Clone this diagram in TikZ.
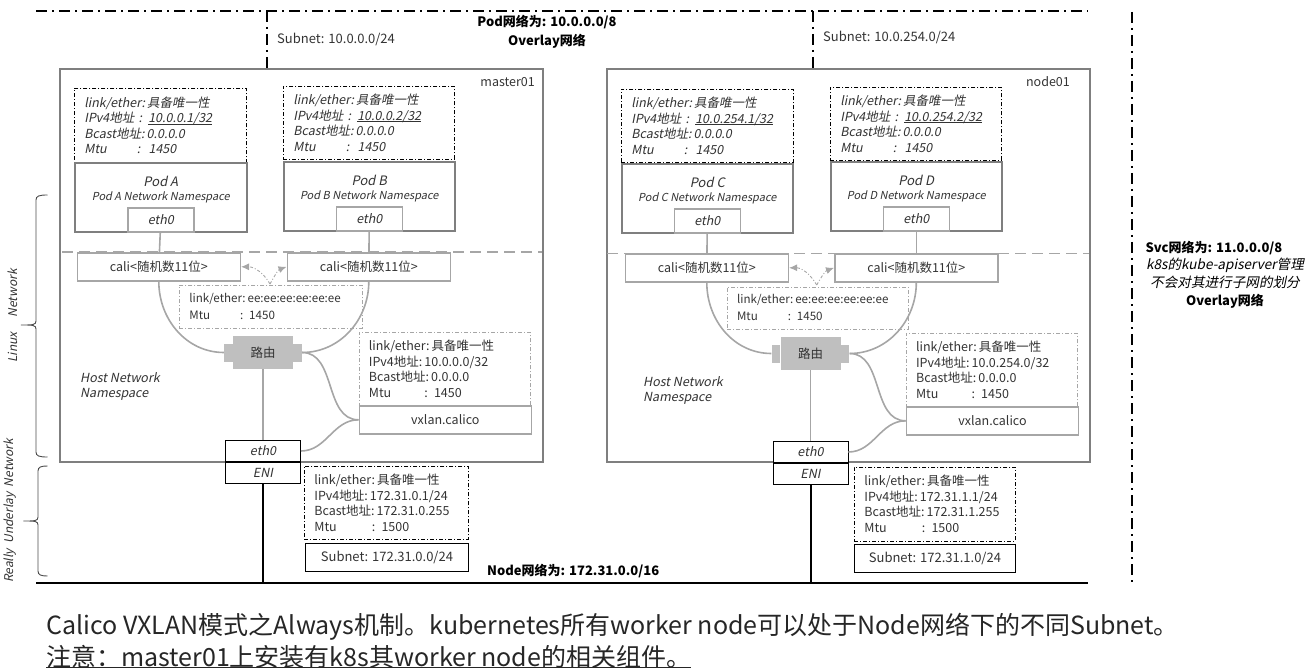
\documentclass[tikz,border=0pt]{standalone}
\usepackage{fontspec}
\setmainfont{Noto Sans CJK SC}[AutoFakeSlant=0.2]
\usetikzlibrary{positioning, arrows.meta}
\definecolor{mtext}{HTML}{333333}
\definecolor{mframe}{HTML}{7F7F7F}
\definecolor{mline}{HTML}{A6A6A6}
\definecolor{mroute}{HTML}{BFBFBF}
\newcommand{\infosize}{\fontsize{12.5}{15.5}\selectfont}
\newcommand{\netsize}{\fontsize{13}{15.5}\selectfont}
\newcommand{\titlesize}{\fontsize{13}{19}\selectfont}
\newcommand{\lowline}[1]{\underline{\smash{#1}}}
\tikzstyle{every node} = [text = mtext, inner sep = 0pt]
\tikzstyle{plain} = [font = \infosize]
\tikzstyle{plainit} = [font = \infosize\itshape]
\tikzstyle{title} = [font = \titlesize\bfseries, text = black, align = center]
\tikzstyle{host} = [draw = mframe, line width = 1.6pt, anchor = north west, minimum width = 483, minimum height = 393]
\tikzstyle{pod} = [draw = mframe, line width = 1.6pt, anchor = north west, minimum width = 172, minimum height = 69]
\tikzstyle{podname} = [font = \fontsize{11}{14}\selectfont\itshape, align = center, anchor = north, yshift = -13.5pt]
\tikzstyle{podeth} = [draw = mline, line width = 1.6pt, fill = white, anchor = south, minimum width = 66, minimum height = 24, font = \infosize\itshape]
\tikzstyle{cali} = [draw = mline, line width = 1.6pt, anchor = north west, minimum width = 163, minimum height = 28, font = \infosize]
\tikzstyle{vxlan} = [draw = mline, line width = 1.6pt, anchor = north west, minimum width = 172, minimum height = 28, font = \infosize]
\tikzstyle{router} = [fill = mroute, minimum width = 60, minimum height = 33, font = \infosize]
\tikzstyle{routertab} = [fill = mroute, minimum width = 8.5, minimum height = 18]
\tikzstyle{nic} = [draw = black, fill = white, line width = 0.9pt, minimum width = 75, minimum height = 20.5, font = \infosize\itshape]
\tikzstyle{infoblack} = [draw = black, line width = 0.7pt, dash pattern = on 4pt off 2pt on 1pt off 2pt, anchor = north west, inner xsep = 10pt, align = left, font = \infosize]
\tikzstyle{infogray} = [infoblack, draw = mline]
\tikzstyle{subnet} = [draw = black, line width = 0.9pt, anchor = north west, minimum width = 163, minimum height = 28, font = \netsize]
\tikzstyle{wire} = [draw = mline, line width = 1.6pt]
\tikzstyle{uplink} = [draw = black, line width = 2pt]
\tikzstyle{fork} = [draw = mline, line width = 0.9pt, dash pattern = on 3pt off 2pt on 1pt off 2pt, -{Latex[length = 8pt, width = 7pt, fill = mline]}]
\tikzstyle{divider} = [draw = mline, line width = 1.6pt, dash pattern = on 11pt off 6pt]
\tikzstyle{podnet} = [draw = black, line width = 1.8pt, dash pattern = on 11pt off 5pt on 2pt off 5pt]
\tikzstyle{span} = [draw = black!70, line width = 0.9pt]
\tikzstyle{spanname} = [font = \fontsize{12}{14}\selectfont\itshape, rotate = 90]
\tikzstyle{caption} = [anchor = base west, font = \fontsize{25}{30}\selectfont, text = black!85]

\begin{document}
\begin{tikzpicture}[x=1pt, y=-1pt]
  \useasboundingbox (0,0) rectangle (1312,671);
  % network borders
  \coordinate (topL) at (36,11);
  \coordinate (topR) at (1088,11);
  \coordinate (baseL) at (36,583);
  \coordinate (baseR) at (1088,583);
  \draw [podnet] (topL) -- (topR);
  \draw [uplink] (baseL) -- (baseR);
  \draw [podnet] (1132,12) -- (1132,583);
  \node (podnet) [title] at (547,32) {Pod网络为: 10.0.0.0/8\\Overlay网络};
  \node (nodenet) [title, anchor = west] at (487,571) {Node网络为: 172.31.0.0/16};
  \node (svcnet) [title, font = \fontsize{13}{17.6}\selectfont\bfseries] at (1225,274.5) {Svc网络为: 11.0.0.0/8\hspace*{22pt}\\{\mdseries\itshape\fontsize{13.6}{17.6}\selectfont k8s的kube-apiserver管理}\\{\mdseries\itshape\fontsize{13.6}{17.6}\selectfont 不会对其进行子网的划分}\\Overlay网络};
  % spans on the left
  \draw [span] (47.5,195) .. controls (39,195) and (36,196) .. (36,200) -- (36,321) .. controls (36,325) and (33,325) .. (21,325) .. controls (33,325) and (36,325) .. (36,329) -- (36,452) .. controls (36,456) and (39,457) .. (47.5,457);
  \draw [span] (47.5,466) .. controls (41,466) and (38,467) .. (38,471) -- (38,517) .. controls (38,521) and (35,521) .. (23.5,521) .. controls (35,521) and (38,521) .. (38,525) -- (38,571) .. controls (38,575) and (41,576) .. (47.5,576);
  \node (linuxname) [spanname] at (12.5,316) {Linux\hspace{15pt}Network};
  \node (underlayname) [spanname] at (10,511) {Really\ \ Underlay\ \ Network};

  % master01
  \node (hostA) [host] at (59,68) {};
  \node (mastername) [plain, anchor = east] at (535,82) {master01};
  \coordinate (tapA) at (267,11);
  \draw [podnet] (tapA) -- (tapA |- hostA.north);
  \node (subA) [plain, font = \netsize, anchor = west] at (277,39) {Subnet: 10.0.0.0/24};
  \draw [divider] (62,252) -- (542,252);
  \node (infoA) [infoblack, plainit, text width = 152, minimum height = 74] at (74,88) {link/ether:\,具备唯一性\\IPv4地址 : \lowline{10.0.0.1/32}\\Bcast地址:\,0.0.0.0\\Mtu\hspace{30pt}:\ \ 1450};
  \node (infoB) [infoblack, plainit, text width = 151, minimum height = 73] at (283,86) {link/ether:\,具备唯一性\\IPv4地址 : \lowline{10.0.0.2/32}\\Bcast地址:\,0.0.0.0\\Mtu\hspace{30pt}:\ \ 1450};
  \node (podA) [pod, label = {[podname]90:{\fontsize{13}{15}\selectfont Pod A\\Pod A Network Namespace}}] at (74,162) {};
  \node (podB) [pod, minimum width = 171, label = {[podname]90:{\fontsize{13}{15}\selectfont Pod B\\Pod B Network Namespace}}] at (283,161) {};
  \node (ethA) [podeth] at (podA.south) {eth0};
  \node (ethB) [podeth] at (podB.south) {eth0};
  \node (caliA) [cali] at (76.5,252) {cali<随机数11位>};
  \node (caliB) [cali] at (286.5,252) {cali<随机数11位>};
  \draw [wire] (ethA) -- (caliA);
  \draw [wire] (ethB) -- (caliB);
  \coordinate (forkA) at (270,284);
  \draw [fork] (forkA) to [out = 120, in = 0] (caliA.east);
  \draw [fork] (forkA) to [out = 60, in = 200] (caliB.west);
  \node (veA) [infogray, plain, font = \fontsize{11.6}{17}\selectfont, text width = 163, minimum height = 43] at (179,285) {link/ether:\,ee:ee:ee:ee:ee:ee\\Mtu\hspace{30pt}: 1450};
  \node (routerA) [router] at (263,352.5) {路由};
  \node (routerAl) [routertab, left = 0pt of routerA] {};
  \node (routerAr) [routertab, right = 0pt of routerA] {};
  \draw [wire] (caliA.south) to [out = -90, in = 180] (routerAl.west);
  \draw [wire] (caliB.south) to [out = -90, in = 0] (routerAr.east);
  \node (infoVA) [infogray, plain, text width = 151, minimum height = 73] at (358.5,332) {link/ether:\,具备唯一性\\IPv4地址:\,10.0.0.0/32\\Bcast地址:\,0.0.0.0\\Mtu\hspace{33pt}: 1450};
  \node (vxlanA) [vxlan] at (358.5,405) {vxlan.calico};
  \node (nicA) [nic] at (263,451) {eth0};
  \node (eniA) [nic] at (263,473) {ENI};
  \draw [wire] (routerA) -- (nicA);
  \draw [wire] (routerAr.east) to [out = 0, in = 180] (vxlanA.west);
  \draw [wire] (nicA.east) to [out = 0, in = 180] (vxlanA.west);
  \draw [uplink] (eniA) -- (eniA |- baseL);
  \node (hostnameA) [plainit, anchor = north west, align = left] at (80,372) {Host Network\\Namespace};
  \node (infoEA) [infoblack, plain, text width = 144, minimum height = 73] at (304,466) {link/ether:\,具备唯一性\\IPv4地址:\,172.31.0.1/24\\Bcast地址:\,172.31.0.255\\Mtu\hspace{35pt}: 1500};
  \node (netA) [subnet] at (305,543) {Subnet: 172.31.0.0/24};

  % node01
  \node (hostB) [host] at (606,68) {};
  \node (nodename) [plain, anchor = east] at (1070,82) {node01};
  \coordinate (tapB) at (813,11);
  \draw [podnet] (tapB) -- (tapB |- hostB.north);
  \node (subB) [plain, font = \netsize, anchor = west] at (823,37) {Subnet: 10.0.254.0/24};
  \draw [divider] (607,253.5) -- (1089,253.5);
  \node (infoC) [infoblack, plainit, text width = 152, minimum height = 73] at (621,89) {link/ether:\,具备唯一性\\IPv4地址 : \lowline{10.0.254.1/32}\\Bcast地址:\,0.0.0.0\\Mtu\hspace{30pt}:\ \ 1450};
  \node (infoD) [infoblack, plainit, text width = 151, minimum height = 73] at (830,87) {link/ether:\,具备唯一性\\IPv4地址 : \lowline{10.0.254.2/32}\\Bcast地址:\,0.0.0.0\\Mtu\hspace{30pt}:\ \ 1450};
  \node (podC) [pod, minimum width = 171, label = {[podname]90:{\fontsize{13}{15}\selectfont Pod C\\Pod C Network Namespace}}] at (621,163) {};
  \node (podD) [pod, minimum width = 171, label = {[podname]90:{\fontsize{13}{15}\selectfont Pod D\\Pod D Network Namespace}}] at (830,161) {};
  \node (ethC) [podeth] at (podC.south) {eth0};
  \node (ethD) [podeth] at (podD.south) {eth0};
  \node (caliC) [cali] at (624.5,253) {cali<随机数11位>};
  \node (caliD) [cali] at (834,253) {cali<随机数11位>};
  \draw [wire] (ethC) -- (caliC);
  \draw [wire] (ethD) -- (caliD);
  \coordinate (forkB) at (816.7,285);
  \draw [fork] (forkB) to [out = 120, in = 0] (caliC.east);
  \draw [fork] (forkB) to [out = 60, in = 200] (caliD.west);
  \node (veB) [infogray, plain, font = \fontsize{11.6}{17}\selectfont, text width = 161, minimum height = 42] at (726.7,286.5) {link/ether:\,ee:ee:ee:ee:ee:ee\\Mtu\hspace{30pt}: 1450};
  \node (routerB) [router] at (810.5,353.5) {路由};
  \node (routerBl) [routertab, left = 0pt of routerB] {};
  \node (routerBr) [routertab, right = 0pt of routerB] {};
  \draw [wire] (caliC.south) to [out = -90, in = 180] (routerBl.west);
  \draw [wire] (caliD.south) to [out = -90, in = 0] (routerBr.east);
  \node (infoVB) [infogray, plain, text width = 151, minimum height = 73] at (905.7,333) {link/ether:\,具备唯一性\\IPv4地址:\,10.0.254.0/32\\Bcast地址:\,0.0.0.0\\Mtu\hspace{33pt}: 1450};
  \node (vxlanB) [vxlan] at (905.7,406) {vxlan.calico};
  \node (nicB) [nic] at (810.5,452) {eth0};
  \node (eniB) [nic] at (810.5,474) {ENI};
  \draw [wire] (routerB) -- (nicB);
  \draw [wire] (routerBr.east) to [out = 0, in = 180] (vxlanB.west);
  \draw [wire] (nicB.east) to [out = 0, in = 180] (vxlanB.west);
  \draw [uplink] (eniB) -- (eniB |- baseL);
  \node (hostnameB) [plainit, anchor = north west, align = left] at (643,376) {Host Network\\Namespace};
  \node (infoEB) [infoblack, plain, text width = 141, minimum height = 74] at (854,466.5) {link/ether:\,具备唯一性\\IPv4地址:\,172.31.1.1/24\\Bcast地址:\,172.31.1.255\\Mtu\hspace{35pt}: 1500};
  \node (netB) [subnet, minimum width = 161] at (854,544) {Subnet: 172.31.1.0/24};

  % caption
  \node (captionA) [caption] at (46,634) {Calico VXLAN模式之Always机制。kubernetes所有worker node可以处于Node网络下的不同Subnet。};
  \node (captionB) [caption] at (46,666) {\lowline{注意：master01上安装有k8s其worker node的相关组件。}};
\end{tikzpicture}
\end{document}
